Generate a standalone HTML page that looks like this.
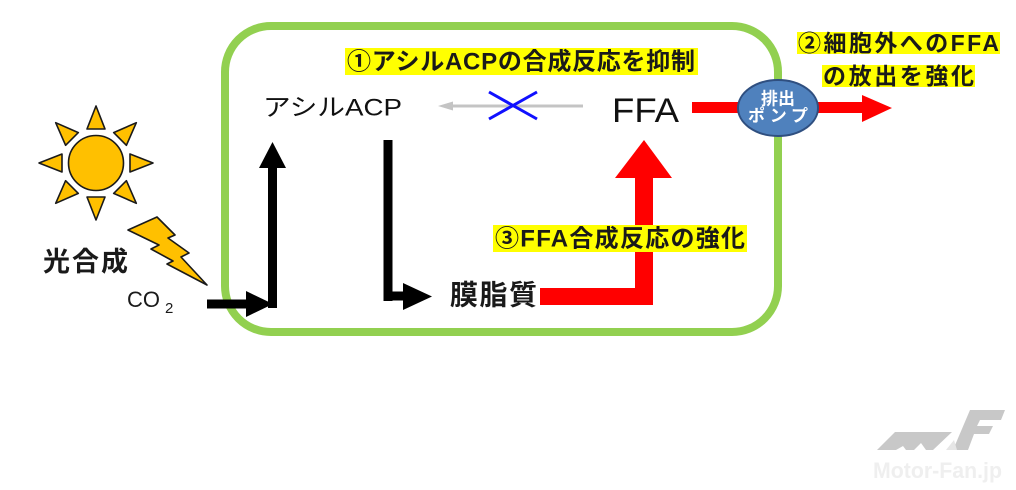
<!DOCTYPE html>
<html><head><meta charset="utf-8">
<style>
html,body{margin:0;padding:0;background:#fff;}
svg{display:block;}
text{font-family:"Liberation Sans","Noto Sans CJK JP",sans-serif;}
</style></head>
<body>
<svg width="1016" height="490" viewBox="0 0 1016 490" xmlns="http://www.w3.org/2000/svg">
<rect width="1016" height="490" fill="#fff"/>

<!-- green cell -->
<rect x="225" y="26" width="553" height="306" rx="46" ry="46" fill="none" stroke="#92d050" stroke-width="8"/>

<!-- sun -->
<g fill="#ffc000" stroke="#1a1a1a" stroke-width="1.6" stroke-linejoin="round">
  <g transform="translate(96,163)">
    <polygon points="0,-57 -9,-34 9,-34"/>
    <polygon points="0,-57 -9,-34 9,-34" transform="rotate(45)"/>
    <polygon points="0,-57 -9,-34 9,-34" transform="rotate(90)"/>
    <polygon points="0,-57 -9,-34 9,-34" transform="rotate(135)"/>
    <polygon points="0,-57 -9,-34 9,-34" transform="rotate(180)"/>
    <polygon points="0,-57 -9,-34 9,-34" transform="rotate(225)"/>
    <polygon points="0,-57 -9,-34 9,-34" transform="rotate(270)"/>
    <polygon points="0,-57 -9,-34 9,-34" transform="rotate(315)"/>
    <circle cx="0" cy="0" r="27.5"/>
  </g>
  <!-- lightning -->
  <polygon points="128,230 157,217 175,235 168,238 189,253 181,257 207,285 167,264 173,261 151,249 159,245"/>
</g>

<!-- photosynthesis labels -->
<text x="43" y="262" font-size="27" font-weight="bold" dominant-baseline="central" textLength="85" lengthAdjust="spacing" fill="#1a1a1a">光合成</text>
<text x="127" y="307" font-size="22" fill="#1a1a1a">CO</text>
<text x="165" y="313" font-size="15" fill="#1a1a1a">2</text>

<!-- black arrows left -->
<rect x="207" y="299.5" width="42" height="9" fill="#000"/>
<polygon points="246,291 246,317 273,304" fill="#000"/>
<rect x="268" y="166" width="9" height="142" fill="#000"/>
<polygon points="259,168 286,168 272.5,142" fill="#000"/>

<!-- acyl ACP -->
<text x="263" y="108" font-size="24" dominant-baseline="central" textLength="139" lengthAdjust="spacingAndGlyphs" fill="#111">アシルACP</text>

<!-- gray arrow with blue X -->
<line x1="450" y1="106" x2="583" y2="106" stroke="#c4c4c4" stroke-width="3"/>
<polygon points="438,106 453,101.5 453,110.5" fill="#c4c4c4"/>
<line x1="489" y1="92" x2="537" y2="119" stroke="#1010ff" stroke-width="3"/>
<line x1="489" y1="119" x2="537" y2="92" stroke="#1010ff" stroke-width="3"/>

<!-- FFA -->
<text x="612" y="122" font-size="34" textLength="67" lengthAdjust="spacingAndGlyphs" fill="#111">FFA</text>

<!-- label 1 -->
<rect x="345" y="48" width="353" height="27" fill="#ffff00"/>
<text x="347" y="62" font-size="24" font-weight="bold" dominant-baseline="central" textLength="348" lengthAdjust="spacing" fill="#1a1a1a">①アシルACPの合成反応を抑制</text>

<!-- down arrow to membrane lipid -->
<rect x="383.5" y="140" width="9" height="161" fill="#000"/>
<rect x="383.5" y="291.5" width="22" height="9" fill="#000"/>
<polygon points="403,283 403,310 432,296.5" fill="#000"/>
<text x="450" y="295" font-size="28" font-weight="bold" dominant-baseline="central" textLength="87" lengthAdjust="spacing" fill="#1a1a1a">膜脂質</text>

<!-- red path -->
<rect x="540" y="288" width="113" height="17" fill="#ff0000"/>
<rect x="635" y="176" width="18" height="129" fill="#ff0000"/>
<polygon points="615,178 672,178 644,140" fill="#ff0000"/>

<!-- label 3 -->
<rect x="493" y="225" width="254" height="27" fill="#ffff00"/>
<text x="495" y="239" font-size="24" font-weight="bold" dominant-baseline="central" textLength="250" lengthAdjust="spacing" fill="#1a1a1a">③FFA合成反応の強化</text>

<!-- red export arrow -->
<rect x="692" y="102" width="173" height="11" fill="#ff0000"/>
<polygon points="862,95 862,122 892,108" fill="#ff0000"/>

<!-- pump -->
<ellipse cx="778" cy="108" rx="40" ry="28" fill="#4f81bd" stroke="#2f4f80" stroke-width="2"/>
<text x="778" y="99" font-size="17" font-weight="bold" fill="#fff" text-anchor="middle" dominant-baseline="central">排出</text>
<text x="778" y="116" font-size="17" font-weight="bold" fill="#fff" text-anchor="middle" dominant-baseline="central" textLength="60" lengthAdjust="spacing">ポンプ</text>

<!-- label 2 -->
<rect x="797" y="32" width="203" height="22" fill="#ffff00"/>
<text x="798" y="43" font-size="23" font-weight="bold" dominant-baseline="central" textLength="201" lengthAdjust="spacing" fill="#1a1a1a">②細胞外へのFFA</text>
<rect x="822" y="65" width="153" height="22" fill="#ffff00"/>
<text x="823" y="76" font-size="23" font-weight="bold" dominant-baseline="central" textLength="151" lengthAdjust="spacing" fill="#1a1a1a">の放出を強化</text>

<!-- watermark logo -->
<g fill="#c8c8c8">
  <polygon points="877,450 895,432 952,432 933,450 926,450 921,443 914,450 906,450 903,446 896,450"/>
  <polygon points="953,450 970,410 1005,410 1001,420 980,420 977,426 993,426 989,434 974,434 968,450"/>
</g>
<polygon points="946,450 954,440 957,450" fill="#e6e6e6"/>
<text x="873" y="478" font-size="22" font-weight="bold" fill="#efefef" textLength="129" lengthAdjust="spacingAndGlyphs">Motor-Fan.jp</text>
</svg>
</body></html>
